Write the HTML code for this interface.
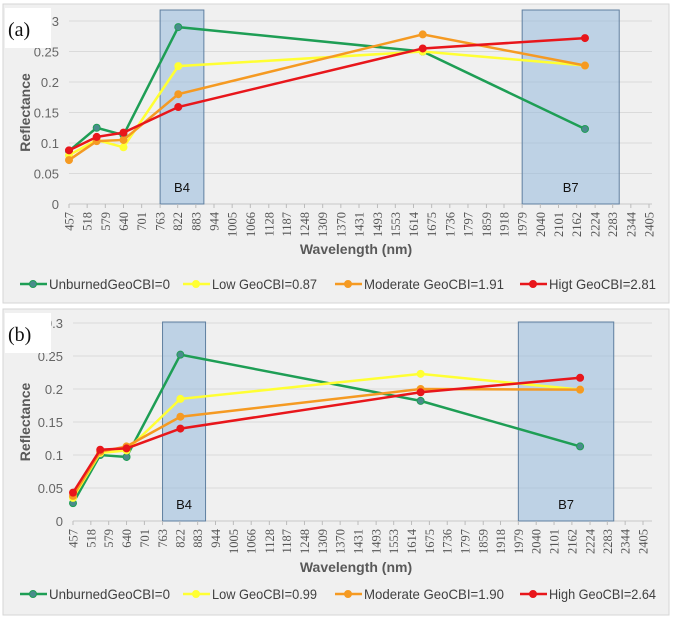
<!DOCTYPE html>
<html><head><meta charset="utf-8">
<style>
body{margin:0;width:673px;height:624px;background:#fff;overflow:hidden;font-family:"Liberation Sans",sans-serif}
svg{position:absolute;left:0;top:0}
</style></head>
<body>
<svg id="chart" width="673" height="624" viewBox="0 0 673 624"></svg>
<script>
const wavelengths=[457,550,640,824,1645,2190];
const xTickLabels=[457,518,579,640,701,763,822,883,944,1005,1066,1128,1187,1248,1309,1370,1431,1493,1553,1614,1675,1736,1797,1859,1918,1979,2040,2101,2162,2224,2283,2344,2405];
const yTickLabels=["0","0.05","0.1","0.15","0.2","0.25","0.3"];
const yTicks=[0,0.05,0.1,0.15,0.2,0.25,0.3];
const seriesNamesA=["UnburnedGeoCBI=0","Low GeoCBI=0.87","Moderate GeoCBI=1.91","Higt GeoCBI=2.81"];
const seriesNamesB=["UnburnedGeoCBI=0","Low GeoCBI=0.99","Moderate GeoCBI=1.90","High GeoCBI=2.64"];
const unburnedA=[0.087,0.125,0.113,0.29,0.25,0.123];
const lowA=[0.08,0.105,0.093,0.226,0.25,0.227];
const moderateA=[0.072,0.103,0.105,0.18,0.278,0.227];
const highA=[0.088,0.11,0.117,0.159,0.255,0.272];
const unburnedB=[0.027,0.1,0.097,0.252,0.182,0.113];
const lowB=[0.035,0.103,0.107,0.185,0.223,0.199];
const moderateB=[0.038,0.105,0.113,0.158,0.2,0.199];
const highB=[0.043,0.108,0.11,0.14,0.195,0.217];
const bandNames=["B4","B7"];
const bandRanges=[[763,910],[1979,2305]];

const NS="http://www.w3.org/2000/svg";
const svg=document.getElementById('chart');
const colors=["#1e9e55","#ffff33","#f59a22","#e8161b"];
const markerFill=["#4a8c8c","#ffff33","#f59a22","#e8161b"];
function mk(tag,attrs,parent){const e=document.createElementNS(NS,tag);for(const k in attrs)e.setAttribute(k,attrs[k]);(parent||svg).appendChild(e);return e;}

function drawPanel(cfg){
  const g=mk('g',{});
  
  
  const bg=mk('rect',{x:3,y:cfg.top,width:666,height:cfg.h,fill:'#f0f0f0',stroke:'#d6d6d6'},g);
  
  
  const xs=w=>cfg.x0+(w-457)*(cfg.x1-cfg.x0)/(2405-457);
  const ys=v=>cfg.y0-v*(cfg.y0-cfg.yTop)/0.3;
  yTicks.forEach((t,i)=>{
    const gl=mk('line',{x1:cfg.x0,x2:652,y1:ys(t),y2:ys(t),stroke:i==0?'#c8c8c8':'#dadada','stroke-width':1},g);
    
    
    const tl=mk('text',{x:cfg.x0-10,y:ys(t)+5,'text-anchor':'end','font-size':13,fill:'#666'},g);
    tl.textContent=yTickLabels[i];
    
    
  });
  bandRanges.forEach((r,i)=>{
    const br=mk('rect',{x:xs(r[0]),y:cfg.bandTop,width:xs(r[1])-xs(r[0]),height:cfg.y0-cfg.bandTop,fill:'rgba(150,185,220,0.55)',stroke:'#5f7fa0','stroke-width':1},g);
    
    
    const bt=mk('text',{x:(xs(r[0])+xs(r[1]))/2,y:cfg.y0-12,'text-anchor':'middle','font-size':13,fill:'#111'},g);
    bt.textContent=bandNames[i];
    
    
  });
  xTickLabels.forEach((t)=>{
    const x=xs(t);
    const tk=mk('line',{x1:x,x2:x,y1:cfg.y0,y2:cfg.y0+4,stroke:'#bbb'},g);
    
    
    const tl=mk('text',{x:0,y:0,'text-anchor':'end','font-size':12.5,'font-family':'Liberation Serif, serif',fill:'#555',transform:`translate(${x+4.5},${cfg.y0+8}) rotate(-90)`},g);
    tl.textContent=t;
    
    
  });
  cfg.series.forEach((vals,si)=>{
    const pts=vals.map((v,i)=>xs(wavelengths[i])+','+ys(v)).join(' ');
    const pl=mk('polyline',{points:pts,fill:'none',stroke:colors[si],'stroke-width':2.5},g);
    
    
    vals.forEach((v,i)=>{
      const c=mk('circle',{cx:xs(wavelengths[i]),cy:ys(v),r:3.5,fill:markerFill[si],stroke:colors[si],'stroke-width':1},g);
      
      
    });
  });
  const yt=mk('text',{x:0,y:0,'text-anchor':'middle','font-size':14,'font-weight':'bold',fill:'#595959',transform:`translate(30,${(cfg.y0+cfg.yTop)/2}) rotate(-90)`},g);
  yt.textContent='Reflectance';
  
  
  const xt=mk('text',{x:356,y:cfg.xTitleY,'text-anchor':'middle','font-size':14,'font-weight':'bold',fill:'#595959'},g);
  xt.textContent='Wavelength (nm)';
  
  
  const lx=[20,183,335,520];
  const lw=[121,105,140,107];
  cfg.names.forEach((n,si)=>{
    const lg=mk('g',{},g);
    
    
    mk('line',{x1:lx[si],x2:lx[si]+27,y1:cfg.legY,y2:cfg.legY,stroke:colors[si],'stroke-width':2.5},lg);
    mk('circle',{cx:lx[si]+13,cy:cfg.legY,r:3.5,fill:markerFill[si],stroke:colors[si]},lg);
    const t=mk('text',{x:lx[si]+29,y:cfg.legY+5,'font-size':14,fill:'#404040',textLength:lw[si],lengthAdjust:'spacingAndGlyphs'},lg);
    t.textContent=n;
  });
  const lb=mk('rect',{x:5,y:cfg.top+4,width:46,height:40,fill:'#fff'},g);
  
  
  const lt=mk('text',{x:8,y:cfg.top+32,'font-size':20,'font-family':'Liberation Serif, serif',fill:'#111'},g);
  lt.textContent=cfg.label;
  
  
}
drawPanel({id:'panel-a',label:'(a)',top:4,h:299,x0:69,x1:649,y0:204,yTop:21,bandTop:10,xTitleY:254,legY:284,names:seriesNamesA,series:[unburnedA,lowA,moderateA,highA]});
drawPanel({id:'panel-b',label:'(b)',top:309,h:306,x0:73,x1:643,y0:521,yTop:323,bandTop:322,xTitleY:572,legY:594,names:seriesNamesB,series:[unburnedB,lowB,moderateB,highB]});
</script>
</body></html>
